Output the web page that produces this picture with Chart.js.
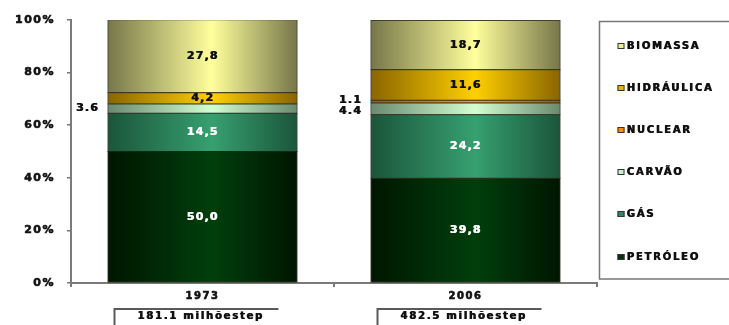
<!DOCTYPE html>
<html>
<head>
<meta charset="utf-8">
<script src="https://cdn.jsdelivr.net/npm/chart.js@4/dist/chart.umd.min.js"></script>
<style>
  html, body { margin: 0; padding: 0; background: #fff; }
  canvas { display: block; }
</style>
</head>
<body>
<canvas id="matriz" width="729" height="325"></canvas>
<script>
// Oferta de energia por fonte (%), 1973 e 2006
const categories = ['1973', '2006'];
const totals = ['181.1', '482.5'];
const totalUnit = 'milhõestep';

const petroleo   = [50.0, 39.8];
const gas        = [14.5, 24.2];
const carvao     = [3.6, 4.4];
const nuclear    = [0, 1.1];
const hidraulica = [4.2, 11.6];
const biomassa   = [27.8, 18.7];

const FONT = '"DejaVu Sans", "Liberation Sans", Arial, sans-serif';
const BAR_PCT = 0.72;
const OUTSIDE = ['CARVÃO', 'NUCLEAR'];
const SPACING = '1.5px';

// horizontal "cylinder" shading for each stacked segment
function barFill(light, dark) {
  return (ctx) => {
    const chart = ctx.chart;
    const xs = chart.scales && chart.scales.x;
    if (!chart.chartArea || !xs || ctx.dataIndex === undefined) return light;
    const w = (xs.width / chart.data.labels.length) * BAR_PCT;
    const cx = xs.getPixelForValue(ctx.dataIndex);
    const g = chart.ctx.createLinearGradient(cx - w / 2, 0, cx + w / 2, 0);
    g.addColorStop(0, dark);
    g.addColorStop(0.55, light);
    g.addColorStop(1, dark);
    return g;
  };
}

function series(label, data, light, dark, swatch, textColor) {
  return {
    label, data,
    backgroundColor: barFill(light, dark),
    swatch, textColor,
    borderColor: 'rgba(30,30,15,0.85)',
    borderWidth: 1,
    borderSkipped: false,
    inflateAmount: 0.5,
    barPercentage: BAR_PCT,
    categoryPercentage: 1
  };
}

const datasets = [
  series('PETRÓLEO',   petroleo,   '#003f0c', '#001600', '#07300c', '#ffffff'),
  series('GÁS',        gas,        '#36a070', '#1b553a', '#2e8b5c', '#ffffff'),
  series('CARVÃO',     carvao,     '#d2ffd2', '#6a8a6e', '#c8f0c8', '#111111'),
  series('NUCLEAR',    nuclear,    '#ff9a10', '#a85400', '#ff8c00', '#111111'),
  series('HIDRÁULICA', hidraulica, '#ffd000', '#8a6400', '#e8b800', '#111111'),
  series('BIOMASSA',   biomassa,   '#ffff9c', '#76764a', '#eeee99', '#111111')
];

// heavier text: glyphs drawn twice, 0.7px apart
function heavyText(c, text, x, y, color) {
  c.fillStyle = color;
  c.fillText(text, x, y);
  c.fillText(text, x + 0.7, y);
}

const textSpacing = {
  id: 'textSpacing',
  beforeUpdate(chart) { chart.ctx.letterSpacing = SPACING; },
  beforeDraw(chart) { chart.ctx.letterSpacing = SPACING; }
};

// value labels on the segments
const segmentLabels = {
  id: 'segmentLabels',
  afterDatasetsDraw(chart) {
    const c = chart.ctx;
    c.save();
    c.font = 'bold 11px ' + FONT;
    c.letterSpacing = '1.2px';
    c.textBaseline = 'middle';
    const outside = categories.map(() => []);
    chart.data.datasets.forEach((ds, di) => {
      const meta = chart.getDatasetMeta(di);
      meta.data.forEach((bar, i) => {
        const v = ds.data[i];
        if (!v) return;
        const mid = (bar.y + bar.base) / 2;
        if (OUTSIDE.includes(ds.label)) {
          outside[i].push({ y: mid, text: v.toFixed(1), x: bar.x - bar.width / 2 - 9 });
        } else {
          c.textAlign = 'center';
          heavyText(c, v.toFixed(1).replace('.', ','), bar.x, mid, ds.textColor);
        }
      });
    });
    outside.forEach(list => {
      list.sort((a, b) => a.y - b.y);
      for (let k = 1; k < list.length; k++) {
        const gap = list[k].y - list[k - 1].y;
        if (gap < 11) {
          const m = (list[k].y + list[k - 1].y) / 2;
          list[k - 1].y = m - 5.5;
          list[k].y = m + 5.5;
        }
      }
      list.forEach(l => {
        c.textAlign = 'right';
        heavyText(c, l.text, l.x, l.y, '#111');
      });
    });
    c.restore();
  }
};

// framed totals under each year
const totalBoxes = {
  id: 'totalBoxes',
  afterDraw(chart) {
    const c = chart.ctx;
    const xs = chart.scales.x;
    const top = chart.chartArea.bottom + 26;
    c.save();
    c.strokeStyle = '#5a5a5a';
    c.lineWidth = 2;
    c.font = 'bold 10px ' + FONT;
    c.letterSpacing = '1.8px';
    c.textAlign = 'center';
    c.textBaseline = 'middle';
    categories.forEach((_, i) => {
      const cx = xs.getPixelForValue(i);
      c.beginPath();
      c.moveTo(cx - 88, chart.height);
      c.lineTo(cx - 88, top);
      c.lineTo(cx + 76, top);
      c.stroke();
      heavyText(c, totals[i] + ' ' + totalUnit, cx - 2, top + 7, '#111');
    });
    c.restore();
  }
};

// framed legend on the right, top series first
const sideLegend = {
  id: 'sideLegend',
  afterDraw(chart) {
    const c = chart.ctx;
    const a = chart.chartArea;
    const left = a.right + 2.5, top = a.top + 1.5, bottom = a.bottom - 4;
    c.save();
    c.strokeStyle = '#777';
    c.lineWidth = 1.5;
    c.strokeRect(left, top, chart.width - left + 5, bottom - top);
    const items = chart.data.datasets.slice().reverse();
    const step = (bottom - top) / 6.1;
    c.font = 'bold 10px ' + FONT;
    c.letterSpacing = '1.8px';
    c.textBaseline = 'middle';
    c.textAlign = 'left';
    items.forEach((ds, k) => {
      const y = Math.round(top + step * (0.57 + k));
      c.fillStyle = ds.swatch;
      c.fillRect(left + 18, y - 3, 7, 6);
      c.strokeStyle = '#333';
      c.lineWidth = 1;
      c.strokeRect(left + 18.5, y - 2.5, 6, 5);
      heavyText(c, ds.label, left + 27, y + 0.5, '#111');
    });
    c.restore();
  }
};

const tickFont = (size) => ({ family: FONT, size, weight: 'bold' });

new Chart(document.getElementById('matriz'), {
  type: 'bar',
  data: { labels: categories, datasets },
  plugins: [textSpacing, segmentLabels, totalBoxes, sideLegend],
  options: {
    responsive: false,
    animation: false,
    layout: { padding: { top: 20, right: 132, bottom: 0, left: 0 } },
    plugins: { legend: { display: false }, tooltip: { enabled: false } },
    scales: {
      x: {
        stacked: true,
        grid: { drawOnChartArea: false, tickLength: 4, color: '#777', lineWidth: 2 },
        border: { color: '#7a7a7a', width: 2 },
        ticks: {
          color: '#111', font: tickFont(10), padding: 3,
          textStrokeColor: '#111', textStrokeWidth: 0.6
        },
        afterFit(s) { s.height = 42; }
      },
      y: {
        stacked: true,
        min: 0,
        max: 100,
        grid: { drawOnChartArea: false, tickLength: 4, color: '#777', lineWidth: 1.5 },
        border: { color: '#7a7a7a', width: 2 },
        ticks: {
          stepSize: 20,
          color: '#111',
          padding: 12,
          font: tickFont(11),
          textStrokeColor: '#111', textStrokeWidth: 0.6,
          callback: v => v + '%'
        },
        afterFit(s) { s.width = 71; }
      }
    }
  }
});
</script>
</body>
</html>
